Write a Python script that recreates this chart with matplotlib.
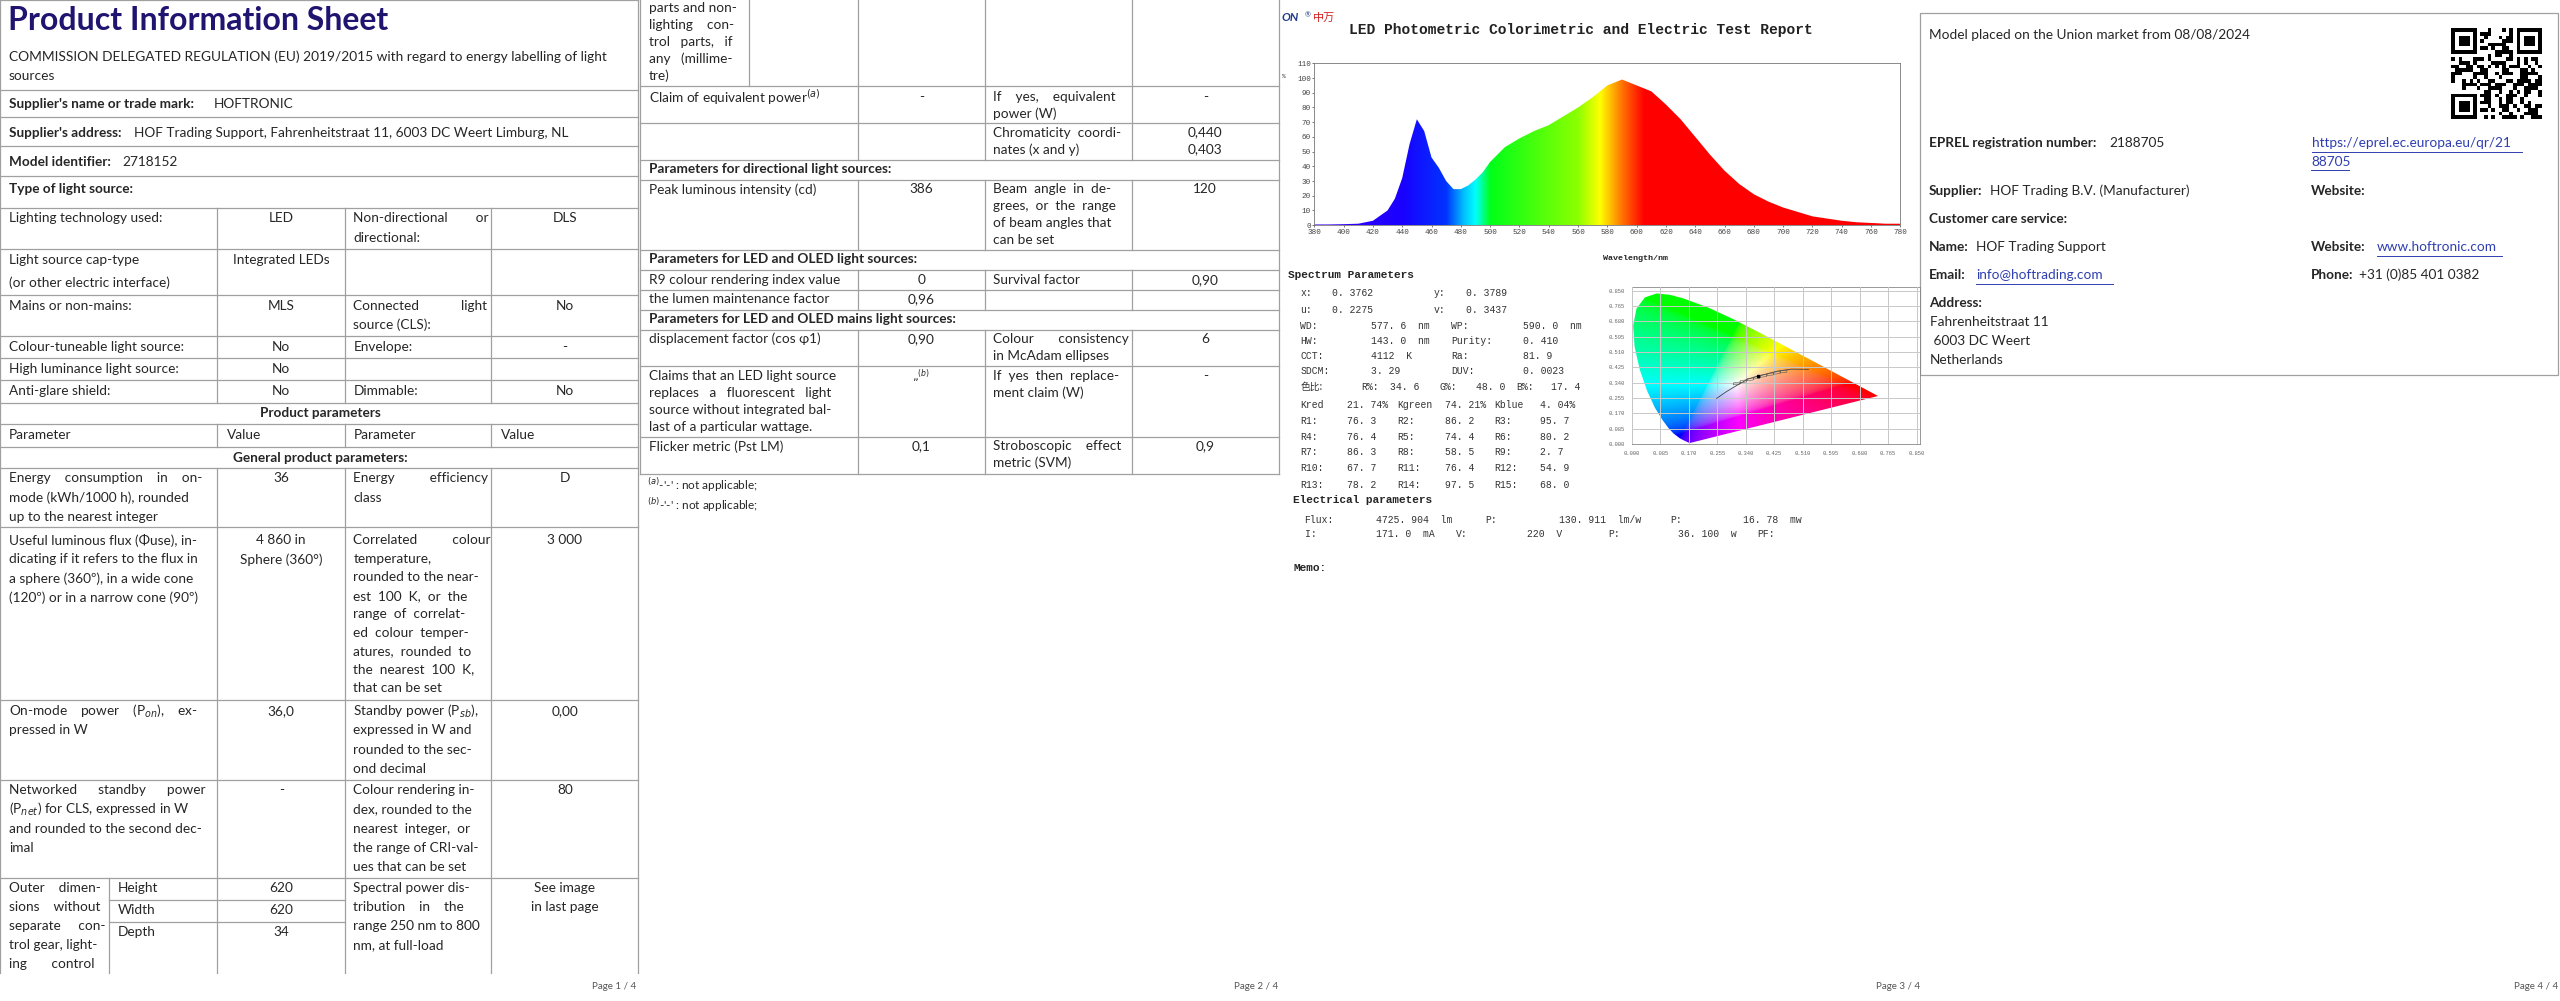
#!/usr/bin/env python
"""
Product information sheet (4 pages side by side) with LED spectrum report.
"""

import hashlib

import matplotlib.pyplot as plt
import numpy as np
from matplotlib.patches import Polygon, Rectangle

plt.rcParams['font.family'] = ['Lato', 'DejaVu Sans']

# ---- data -----------------------------------------------------------------
wavelengths = [380, 390, 400, 410, 420, 430, 435, 440, 445, 450, 455, 460, 465,
               470, 475, 480, 485, 490, 495, 500, 510, 520, 530, 540, 550, 560,
               570, 580, 585, 590, 600, 610, 620, 630, 640, 650, 660, 670, 680,
               690, 700, 710, 720, 730, 740, 750, 760, 770, 780]
spectrum_pct = [0.5, 0.5, 0.7, 1.0, 3.0, 10, 18, 32, 55, 72, 64, 46, 39,
                30, 24.5, 24.5, 27, 31, 36, 43, 53, 59, 64, 68, 74, 80,
                87, 95, 97, 99, 95, 91, 82, 72, 60, 48, 37, 28, 21,
                16, 12, 9, 6, 4.5, 3, 2, 1.5, 1, 1]

# CIE 1931 spectral locus (x, y)
locus_x = [0.1741, 0.1714, 0.1644, 0.1566, 0.1440, 0.1241, 0.1096, 0.0913,
           0.0687, 0.0454, 0.0235, 0.0082, 0.0039, 0.0139, 0.0389, 0.0743,
           0.1142, 0.1547, 0.2296, 0.3016, 0.3731, 0.4441, 0.5125, 0.5752,
           0.6270, 0.6915, 0.7190, 0.7347]
locus_y = [0.0050, 0.0051, 0.0109, 0.0177, 0.0297, 0.0578, 0.0868, 0.1327,
           0.2007, 0.2950, 0.4127, 0.5384, 0.6548, 0.7502, 0.8120, 0.8338,
           0.8262, 0.8059, 0.7543, 0.6923, 0.6245, 0.5547, 0.4866, 0.4242,
           0.3725, 0.3083, 0.2809, 0.2653]
planck_x = [0.253, 0.281, 0.306, 0.346, 0.380, 0.437, 0.476, 0.527]
planck_y = [0.252, 0.288, 0.316, 0.359, 0.377, 0.404, 0.414, 0.413]
quad_x = [0.313, 0.333, 0.353, 0.373, 0.393, 0.413, 0.433, 0.453]
quad_y = [0.335, 0.347, 0.358, 0.367, 0.377, 0.386, 0.394, 0.401]
test_point = (0.3762, 0.3789)

spec_params = [
    ('x:', '0. 3762', 'y:', '0. 3789'),
    ('u:', '0. 2275', 'v:', '0. 3437'),
]
spec_params2 = [
    ('WD:', '577. 6  nm', 'WP:', '590. 0  nm'),
    ('HW:', '143. 0  nm', 'Purity:', '0. 410'),
    ('CCT:', '4112  K', 'Ra:', '81. 9'),
    ('SDCM:', '3. 29', 'DUV:', '0. 0023'),
]
r_values = [
    ('Kred', '21. 74%', 'Kgreen', '74. 21%', 'Kblue', '4. 04%'),
    ('R1:', '76. 3', 'R2:', '86. 2', 'R3:', '95. 7'),
    ('R4:', '76. 4', 'R5:', '74. 4', 'R6:', '80. 2'),
    ('R7:', '86. 3', 'R8:', '58. 5', 'R9:', '2. 7'),
    ('R10:', '67. 7', 'R11:', '76. 4', 'R12:', '54. 9'),
    ('R13:', '78. 2', 'R14:', '97. 5', 'R15:', '68. 0'),
]

TXT = '#262626'
LINE = '#a0a0a0'
FS = 9.8

fig = plt.figure(figsize=(25.6, 10.01), dpi=100)
ax = fig.add_axes([0, 0, 1, 1])
ax.set_xlim(0, 1568)
ax.set_ylim(613, 0)
ax.axis('off')


def hl(y, x0, x1):
    ax.plot([x0, x1], [y, y], color=LINE, lw=0.9)


def vl(x, y0, y1):
    ax.plot([x, x], [y0, y1], color=LINE, lw=0.9)


def t(x, y, s, size=FS, weight='normal', ha='left', color=TXT, **kw):
    ax.text(x, y, s, fontsize=size, fontweight=weight, ha=ha, va='center',
            color=color, **kw)


def lines(x, y, rows, step=11.7, **kw):
    for i, s in enumerate(rows):
        t(x, y + i * step, s, **kw)


# ---- page 1 ---------------------------------------------------------------
t(5, 12.5, 'Product Information Sheet', size=23, weight='bold', color='#1f1470')
t(5.5, 34.7, 'COMMISSION DELEGATED REGULATION (EU) 2019/2015 with regard to energy labelling of light', size=9.9)
t(5.5, 46.5, 'sources', size=9.9)
t(5.5, 63.7, "Supplier's name or trade mark:", weight='bold')
t(131, 63.7, 'HOFTRONIC')
t(5.5, 81.2, "Supplier's address:", weight='bold')
t(82, 81.2, 'HOF Trading Support, Fahrenheitstraat 11, 6003 DC Weert Limburg, NL')
t(5.5, 99.4, 'Model identifier:', weight='bold')
t(75, 99.4, '2718152')
t(5.5, 116, 'Type of light source:', weight='bold')
for y in [0, 55, 71.4, 89.4, 108, 127.2, 152.6, 180.9, 205.5, 219.3, 232.8,
          246.5, 259.9, 273.8, 286.9, 322.6, 428.5, 477.5, 537.4]:
    hl(y, 0, 391)
vl(0, 0, 595.8)
vl(391, 0, 595.8)
for x in [133, 211.5, 301]:
    vl(x, 127.2, 246.5)
    vl(x, 259.9, 273.8)
    vl(x, 286.9, 595.8)

c1, c2, c3, c4 = 5.5, 172.25, 216.5, 346
t(c1, 133.8, 'Lighting technology used:')
t(c2, 133.8, 'LED', ha='center')
lines(c3, 133.8, ['Non-directional        or', 'directional:'])
t(c4, 133.8, 'DLS', ha='center')
lines(c1, 159, ['Light source cap-type', '(or other electric interface)'], step=14.3)
t(c2, 159, 'Integrated LEDs', ha='center')
t(c1, 187.1, 'Mains or non-mains:')
t(c2, 187.1, 'MLS', ha='center')
lines(c3, 187.1, ['Connected            light', 'source (CLS):'])
t(c4, 187.1, 'No', ha='center')
t(c1, 212.3, 'Colour-tuneable light source:')
t(c2, 212.3, 'No', ha='center')
t(c3, 212.3, 'Envelope:')
t(c4, 212.3, '-', ha='center')
t(c1, 226, 'High luminance light source:')
t(c2, 226, 'No', ha='center')
t(c1, 239.4, 'Anti-glare shield:')
t(c2, 239.4, 'No', ha='center')
t(c3, 239.4, 'Dimmable:')
t(c4, 239.4, 'No', ha='center')
t(196, 252.7, 'Product parameters', weight='bold', ha='center')
t(c1, 266.4, 'Parameter')
t(138.75, 266.4, 'Value')
t(c3, 266.4, 'Parameter')
t(307, 266.4, 'Value')
t(196, 280.4, 'General product parameters:', weight='bold', ha='center')

lines(c1, 293, ['Energy    consumption    in    on-', 'mode (kWh/1000 h), rounded',
                'up to the nearest integer'])
t(c2, 293, '36', ha='center')
lines(c3, 293, ['Energy          efficiency', 'class'])
t(c4, 293, 'D', ha='center')

lines(c1, 330.9, ['Useful luminous flux (\u03a6use), in-', 'dicating if it refers to the flux in',
                  'a sphere (360\u00ba), in a wide cone', '(120\u00ba) or in a narrow cone (90\u00ba)'])
lines(c2, 330.9, ['4 860 in', 'Sphere (360\u00b0)'], ha='center')
lines(c3, 330.9, ['Correlated          colour', 'temperature,', 'rounded to the near-',
                  'est  100  K,  or  the', 'range  of  correlat-', 'ed  colour  temper-',
                  'atures,  rounded  to', 'the  nearest  100  K,', 'that can be set'], step=11.3)
t(c4, 330.9, '3 000', ha='center')

lines(c1, 435.3, ['On-mode    power    (P$_{on}$),    ex-', 'pressed in W'], step=11.9)
t(c2, 435.3, '36,0', ha='center')
lines(c3, 435.3, ['Standby power (P$_{sb}$),', 'expressed in W and',
                  'rounded to the sec-', 'ond decimal'], step=11.9)
t(c4, 435.3, '0,00', ha='center')

lines(c1, 484, ['Networked      standby      power', '(P$_{net}$) for CLS, expressed in W',
                'and rounded to the second dec-', 'imal'])
t(c2, 484, '-', ha='center')
lines(c3, 484, ['Colour rendering in-', 'dex, rounded to the', 'nearest  integer,  or',
                'the range of CRI-val-', 'ues that can be set'])
t(c4, 484, '80', ha='center')

vl(66.75, 537.4, 595.8)
hl(551, 66.75, 211.5)
hl(564.4, 66.75, 211.5)
lines(c1, 544, ['Outer    dimen-', 'sions    without', 'separate     con-',
                'trol gear, light-', 'ing       control'], step=11.6)
for y, lab, val in [(544, 'Height', '620'), (557.4, 'Width', '620'), (570.8, 'Depth', '34')]:
    t(72, y, lab)
    t(c2, y, val, ha='center')
lines(c3, 544, ['Spectral power dis-', 'tribution    in    the',
                'range 250 nm to 800', 'nm, at full-load'], step=11.6)
lines(c4, 544, ['See image', 'in last page'], step=11.6, ha='center')

# ---- page 2 ---------------------------------------------------------------
X0, X1, X2, X3, X4 = 392, 525.25, 603.5, 693.25, 783.25
vl(X0, 0, 290.1)
vl(X4, 0, 290.1)
vl(458.75, 0, 52.6)
for x in [X1, X2, X3]:
    vl(x, 0, 97.9)
    vl(x, 110.2, 153)
    vl(x, 165.2, 189.7)
    vl(x, 202, 290.1)
for y in [52.6, 75.5, 97.9, 110.2, 153, 165.2, 177.5, 189.7, 202, 224.4, 267.6, 290.1]:
    hl(y, X0, X4)
d1, d2, d3, d4 = 397.5, 564.4, 608.5, 738.25
lines(d1, 5.1, ['parts and non-', 'lighting    con-', 'trol   parts,   if', 'any   (millime-', 'tre)'], step=10.35)
t(d1, 59.2, 'Claim of equivalent power$^{(a)}$')
t(d2, 59.2, '-', ha='center')
lines(d3, 59.2, ['If    yes,    equivalent', 'power (W)'], step=10.2)
t(d4, 59.2, '-', ha='center')
lines(d3, 81.2, ['Chromaticity  coordi-', 'nates (x and y)'], step=10.2)
lines(d4, 81.2, ['0,440', '0,403'], step=10.2, ha='center')
t(d1, 103.6, 'Parameters for directional light sources:', weight='bold')
t(d1, 115.9, 'Peak luminous intensity (cd)')
t(d2, 115.9, '386', ha='center')
lines(d3, 115.9, ['Beam  angle  in  de-', 'grees,  or  the  range', 'of beam angles that',
                  'can be set'], step=10.4)
t(d4, 115.9, '120', ha='center')
t(d1, 158.7, 'Parameters for LED and OLED light sources:', weight='bold')
t(d1, 171.4, 'R9 colour rendering index value')
t(d2, 171.4, '0', ha='center')
t(d3, 171.4, 'Survival factor')
t(d4, 171.4, '0,90', ha='center')
t(d1, 183.2, 'the lumen maintenance factor')
t(d2, 183.2, '0,96', ha='center')
t(d1, 195.4, 'Parameters for LED and OLED mains light sources:', weight='bold')
t(d1, 207.7, 'displacement factor (cos \u03c61)')
t(d2, 207.7, '0,90', ha='center')
lines(d3, 207.7, ['Colour       consistency', 'in McAdam ellipses'], step=10.2)
t(d4, 207.7, '6', ha='center')
lines(d1, 230.1, ['Claims that an LED light source', 'replaces   a   fluorescent   light',
                  'source without integrated bal-', 'last of a particular wattage.'], step=10.4)
t(d2, 230.1, '\u201e$^{(b)}$', ha='center', size=8)
lines(d3, 230.1, ['If  yes  then  replace-', 'ment claim (W)'], step=10.2)
t(d4, 230.1, '-', ha='center')
t(d1, 273.4, 'Flicker metric (Pst LM)')
t(d2, 273.4, '0,1', ha='center')
lines(d3, 273.4, ['Stroboscopic    effect', 'metric (SVM)'], step=10.2)
t(d4, 273.4, '0,9', ha='center')
t(396, 296.8, "$^{(a)}$-'-' : not applicable;", size=8.5)
t(396, 309, "$^{(b)}$-'-' : not applicable;", size=8.5)

# ---- page 3 ---------------------------------------------------------------
MONO = 'Liberation Mono'
t(785, 11, 'ON', size=8.5, weight='bold', color='#1f3a8a', style='italic')
t(799, 9, '\u00ae', size=5, color='#1f3a8a')
ax.text(804, 11, '\u4e2d\u4e07', fontsize=8, color='#d42020', va='center',
        family=['Noto Sans CJK SC', 'DejaVu Sans'])
t(826, 18.5, 'LED Photometric Colorimetric and Electric Test Report', size=10.5,
  weight='bold', family=MONO, color='#222')
t(785, 47, '%', size=4.5, family=MONO)
t(982, 158, 'Wavelength/nm', size=6, weight='bold', family=MONO)

# spectrum axes
W, H = 1568.0, 613.0
sax = fig.add_axes([805 / W, 1 - 137.9 / H, (1164 - 805) / W, (137.9 - 38.8) / H])
sax.set_xlim(380, 780)
sax.set_ylim(0, 110)
sax.set_xticks(np.arange(380, 781, 20))
sax.set_yticks(np.arange(0, 111, 10))
sax.tick_params(labelsize=5.5, length=1.5, width=0.5, pad=1, colors='#444')
for lab in sax.get_xticklabels() + sax.get_yticklabels():
    lab.set_family(MONO)
for sp in sax.spines.values():
    sp.set_linewidth(0.6)
    sp.set_color('#777')

stops_wl = [380, 440, 470, 482, 490, 500, 560, 575, 590, 605, 780]
stops_rgb = [(0.25, 0, 1), (0.1, 0, 1), (0, 0.2, 1), (0, 0.75, 1), (0, 1, 1),
             (0, 1, 0.1), (0.55, 1, 0), (1, 1, 0), (1, 0.45, 0), (1, 0, 0), (1, 0, 0)]
grid = np.linspace(380, 780, 800)
rgb = np.stack([np.interp(grid, stops_wl, [c[i] for c in stops_rgb]) for i in range(3)], -1)
im = sax.imshow(rgb[None, :, :], extent=[380, 780, 0, 110], aspect='auto', zorder=1)
poly = sax.fill_between(wavelengths, spectrum_pct, 0, color='none')
im.set_clip_path(poly.get_paths()[0], transform=sax.transData)

ff = dict(family=MONO, size=7, color='#333')
t(789, 168.4, 'Spectrum Parameters', size=8, weight='bold', family=MONO)
for y, (a, b, c, d) in zip([179.6, 189.8], spec_params):
    t(796.5, y, a, **ff)
    t(816, y, b, **ff)
    t(878, y, c, **ff)
    t(898, y, d, **ff)
for y, (a, b, c, d) in zip([199.4, 208.8, 218, 227.5], spec_params2):
    t(796.5, y, a, **ff)
    t(840, y, b, **ff)
    t(889, y, c, **ff)
    t(933, y, d, **ff)
ax.text(796.5, 237.1, '\u8272\u6bd4:', fontsize=7, color='#333', va='center',
        family=['Noto Sans CJK SC', 'DejaVu Sans'])
for x, s in [(834, 'R%:'), (851.5, '34. 6'), (881.5, 'G%:'), (904, '48. 0'),
             (928.5, 'B%:'), (950, '17. 4')]:
    t(x, 237.1, s, **ff)
for y, row in zip([248.1, 258.1, 267.7, 277.1, 286.9, 296.9], r_values):
    for x, s in zip([796.5, 825, 856, 885, 915, 943.5], row):
        t(x, y, s, **ff)
t(792, 306, 'Electrical parameters', size=8, weight='bold', family=MONO)
for x, s in [(798.5, 'Flux:'), (842.75, '4725. 904  lm'), (910, 'P:'),
             (955, '130. 911  lm/w'), (1022.75, 'P:'), (1067.75, '16. 78  mw')]:
    t(x, 318.7, s, **ff)
for x, s in [(799.5, 'I:'), (842.75, '171. 0  mA'), (891.5, 'V:'), (935, '220  V'),
             (985, 'P:'), (1027.75, '36. 100  w'), (1076.5, 'PF:')]:
    t(x, 327.1, s, **ff)
t(792, 348, 'Memo:', size=8, weight='bold', family=MONO)

# CIE chart
cax = fig.add_axes([999.5 / W, 1 - 271.8 / H, (1176 - 999.5) / W, (271.8 - 175.5) / H])
cax.set_xlim(0, 0.86)
cax.set_ylim(0, 0.872)
ticks = np.round(np.arange(0, 0.851, 0.085), 3)
cax.set_xticks(ticks)
cax.set_yticks(ticks)
cax.set_xticklabels(['%.3f' % v for v in ticks])
cax.set_yticklabels(['%.3f' % v for v in ticks])
cax.tick_params(labelsize=4, length=0, pad=5, colors='#666')
for lab in cax.get_xticklabels() + cax.get_yticklabels():
    lab.set_family(MONO)
cax.grid(True, color='#c8c8c8', lw=0.7)
cax.set_axisbelow(False)
for sp in cax.spines.values():
    sp.set_color('#888')
    sp.set_linewidth(0.6)
gx, gy = np.meshgrid(np.linspace(0.001, 0.86, 300), np.linspace(0.001, 0.872, 300))
X = gx / gy
Z = (1 - gx - gy) / gy
Y = np.ones_like(X)
m = np.array([[3.2406, -1.5372, -0.4986], [-0.9689, 1.8758, 0.0415], [0.0557, -0.2040, 1.0570]])
lin = np.einsum('ij,jab->abi', m, np.stack([X, Y, Z]))
lin = np.clip(lin, 0, None)
lin = lin / lin.max(axis=2, keepdims=True).clip(1e-6)
srgb = np.where(lin <= 0.0031308, 12.92 * lin, 1.055 * lin ** (1 / 2.4) - 0.055)
cim = cax.imshow(srgb, origin='lower', extent=[0.001, 0.86, 0.001, 0.872], aspect='auto', zorder=0.5)
hs = Polygon(np.column_stack([locus_x, locus_y]), closed=True, fc='none', ec='none')
cax.add_patch(hs)
cim.set_clip_path(hs)
cax.plot(planck_x, planck_y, color='#444', lw=0.6, zorder=3)
for qx_, qy_ in zip(quad_x, quad_y):
    cax.add_patch(Polygon([(qx_ - 0.011, qy_ - 0.008), (qx_ + 0.009, qy_ - 0.004),
                           (qx_ + 0.011, qy_ + 0.008), (qx_ - 0.009, qy_ + 0.004)],
                          closed=True, fc='none', ec='#555', lw=0.4, zorder=3))
cax.plot(*test_point, marker='s', ms=1.5, color='black', zorder=4)

# ---- page 4 ---------------------------------------------------------------
ax.add_patch(Rectangle((1176, 8.2), 1566.5 - 1176, 229.5 - 8.2, fc='none', ec=LINE, lw=0.9))
LINK = '#2f3fb0'
t(1181.5, 21.4, 'Model placed on the Union market from 08/08/2024')
t(1181.5, 87.7, 'EPREL registration number:', weight='bold')
t(1292, 87.7, '2188705')
t(1416, 87.7, 'https://eprel.ec.europa.eu/qr/21', color=LINK)
t(1415.5, 99.3, '88705', color=LINK)
hl_link = [(1416, 1544.75, 92.8), (1415.5, 1439, 104.4)]
t(1181.5, 116.7, 'Supplier:', weight='bold')
t(1219, 116.7, 'HOF Trading B.V. (Manufacturer)')
t(1415.5, 116.7, 'Website:', weight='bold')
t(1181.5, 134, 'Customer care service:', weight='bold')
t(1181.5, 151.4, 'Name:', weight='bold')
t(1210, 151.4, 'HOF Trading Support')
t(1415.5, 151.4, 'Website:', weight='bold')
t(1456, 151.4, 'www.hoftronic.com', color=LINK)
t(1181.5, 168.5, 'Email:', weight='bold')
t(1210.5, 168.5, 'info@hoftrading.com', color=LINK)
t(1415.5, 168.5, 'Phone:', weight='bold')
t(1445, 168.5, '+31 (0)85 401 0382')
hl_link += [(1456, 1532.75, 156.7), (1210.5, 1294, 173.8)]
for x0, x1, y in hl_link:
    ax.plot([x0, x1], [y, y], color=LINK, lw=0.7)
t(1181.5, 185.6, 'Address:', weight='bold')
t(1182.25, 197.3, 'Fahrenheitstraat 11')
t(1182.25, 208.7, ' 6003 DC Weert')
t(1182.25, 220.3, 'Netherlands')

# QR-like code (deterministic pattern derived from the registration number)
qx, qy, n = 1501.5, 17.3, 25
cell = 55.5 / n
bits = ''.join(format(b, '08b') for k in range(12)
               for b in hashlib.sha256(('2188705-%d' % k).encode()).digest())
for r in range(n):
    for c in range(n):
        in_finder = (r < 8 and c < 8) or (r < 8 and c >= n - 8) or (r >= n - 8 and c < 8)
        if in_finder:
            continue
        if bits[r * n + c] == '1':
            ax.add_patch(Rectangle((qx + c * cell, qy + r * cell), cell, cell, fc='black', lw=0))
for fr, fc in [(0, 0), (0, n - 7), (n - 7, 0)]:
    x0, y0 = qx + fc * cell, qy + fr * cell
    ax.add_patch(Rectangle((x0, y0), 7 * cell, 7 * cell, fc='black', lw=0))
    ax.add_patch(Rectangle((x0 + cell, y0 + cell), 5 * cell, 5 * cell, fc='white', lw=0))
    ax.add_patch(Rectangle((x0 + 2 * cell, y0 + 2 * cell), 3 * cell, 3 * cell, fc='black', lw=0))

# page footers
for x, s in [(390, 'Page 1 / 4'), (783, 'Page 2 / 4'), (1176, 'Page 3 / 4'), (1567, 'Page 4 / 4')]:
    t(x, 604, s, size=7, ha='right', color='#555')

fig.savefig('out.png', dpi=100)
